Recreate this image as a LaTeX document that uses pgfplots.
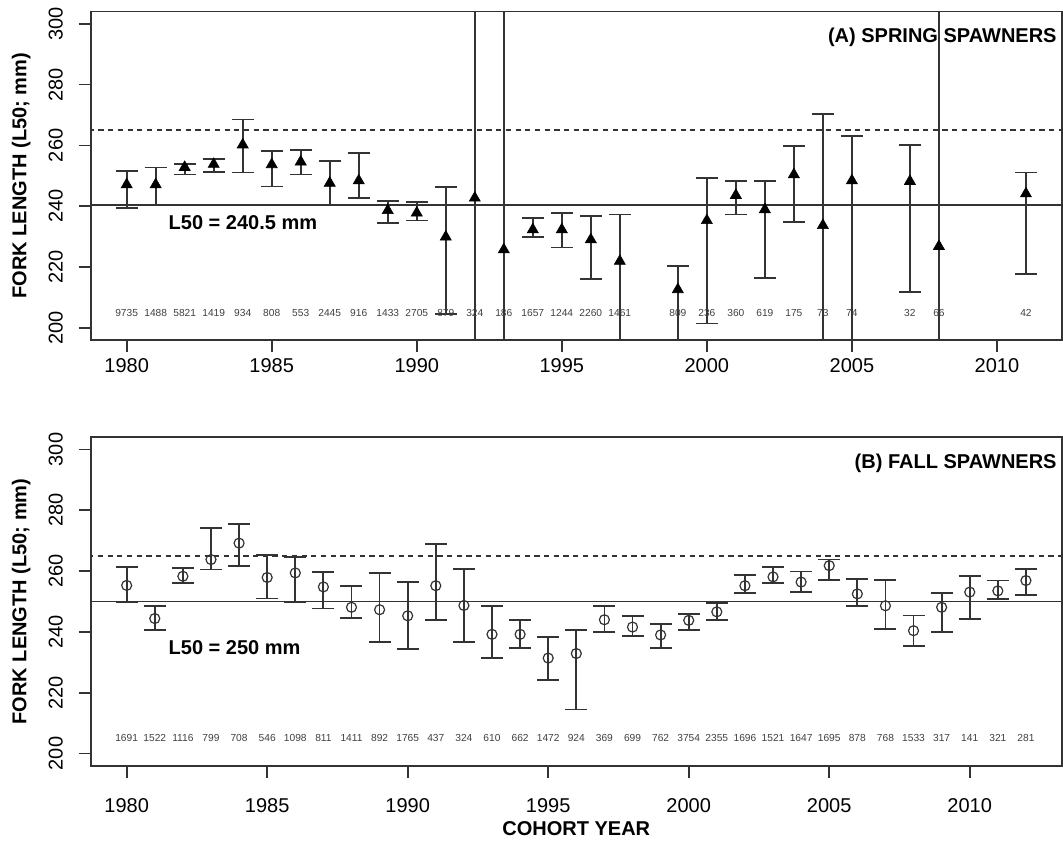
\documentclass[border=0pt]{standalone}
\usepackage{fontspec}
\setmainfont{Liberation Sans}
\usepackage{pgfplots}
\pgfplotsset{compat=1.18}
\usepackage{pgfplotstable}

\pgfplotstableread{
year y hi lo n
1980 247.1 251.5 239.3 9735
1981 247.1 252.7 240.5 1488
1982 252.8 254.0 250.4 5821
1983 253.8 255.6 251.3 1419
1984 260.2 268.5 251.1 934
1985 253.7 258.2 246.5 808
1986 254.6 258.4 250.4 553
1987 247.6 254.9 240.5 2445
1988 248.4 257.4 242.6 916
1989 238.6 241.7 234.4 1433
1990 237.8 241.4 235.3 2705
1991 229.9 246.2 204.6 879
1992 242.7 330 170 324
1993 225.7 330 170 186
1994 232.3 236.2 229.8 1657
1995 232.3 237.7 226.4 1244
1996 229.0 236.7 216.1 2260
1997 221.9 237.3 170 1461
1999 212.6 220.4 170 809
2000 235.3 249.3 201.4 236
2001 243.6 248.4 237.3 360
2002 238.9 248.2 216.3 619
2003 250.4 259.7 234.8 175
2004 233.7 270.3 170 73
2005 248.4 263.0 170 74
2007 248.2 260.0 211.7 32
2008 226.8 330 170 66
2011 244.1 251.1 217.8 42
}\springdata

\pgfplotstableread{
year y hi lo n
1980 255.3 261.4 249.7 1691
1981 244.4 248.4 240.5 1522
1982 258.3 260.9 256.0 1116
1983 263.8 274.3 260.5 799
1984 269.2 275.6 261.6 708
1985 257.9 265.2 251.0 546
1986 259.4 264.6 249.7 1098
1987 254.8 259.8 247.7 811
1988 248.1 255.2 244.5 1411
1989 247.3 259.4 236.7 892
1990 245.3 256.3 234.4 1765
1991 255.2 268.8 243.8 437
1992 248.7 260.7 236.6 324
1993 239.2 248.6 231.4 610
1994 239.2 243.8 234.6 662
1995 231.4 238.2 224.2 1472
1996 232.9 240.5 214.5 924
1997 244.0 248.4 240.0 369
1998 241.6 245.3 238.7 699
1999 239.0 242.6 234.6 762
2000 243.8 245.8 240.7 3754
2001 246.6 249.5 244.0 2355
2002 255.2 258.7 252.8 1696
2003 258.1 261.4 256.1 1521
2004 256.4 259.9 253.0 1647
2005 261.8 263.8 257.2 1695
2006 252.5 257.5 248.5 878
2007 248.6 257.2 241.0 768
2008 240.4 245.4 235.3 1533
2009 248.1 252.8 240.0 317
2010 253.1 258.3 244.3 141
2011 253.5 256.9 250.9 321
2012 256.9 260.7 252.2 281
}\falldata

\definecolor{ink}{gray}{0.2}

\pgfplotsset{
  panel/.style={
    scale only axis, width=485.6pt, height=164.2pt,
    ymin=196, ymax=304, ytick={200,220,240,260,280,300},
    axis line style={ink, line width=0.85pt},
    tick style={ink, line width=0.85pt},
    tick align=outside, major tick length=6pt,
    xtick pos=bottom, ytick pos=left,
    /pgf/number format/assume math mode=true,
    yticklabel style={rotate=90, anchor=base, yshift=8.0pt},
    xticklabel style={anchor=base, yshift=-10.2pt},
    xtick={1980,1985,1990,1995,2000,2005,2010},
    xticklabels={1980,1985,1990,1995,2000,2005,2010},
    every axis y label/.style={at={(axis description cs:-0.0715,0.5)}, rotate=90, anchor=center, font=\bfseries},
    ylabel={FORK LENGTH (L50; mm)},
    clip=true,
  },
  counts/.style={draw=none, mark=none, nodes near coords, point meta=explicit symbolic,
    nodes near coords style={font=\fontsize{5.1}{6}\selectfont, anchor=center, text=black!75, inner sep=0pt}},
  bars/.style={ink, line width=0.9pt,
    error bars/y dir=both, error bars/y explicit,
    error bars/error mark options={rotate=90, mark size=5.5pt, line width=0.9pt, ink},
    error bars/error bar style={line width=0.9pt, ink}},
}

\begin{document}
\begin{tikzpicture}
% ---------- (A) spring spawners ----------
\begin{axis}[panel, at={(0,212.85pt)}, anchor=south west,
  xmin=1978.76, xmax=2012.24]
  \addplot[ink, line width=0.85pt, dash pattern=on 2.6pt off 2.25pt] coordinates {(1970,265) (2020,265)};
  \addplot[ink, line width=0.85pt] coordinates {(1970,240.5) (2020,240.5)};
  \addplot[counts] table[x=year, y expr=205, meta=n] {\springdata};
  \addplot[bars, only marks, mark=triangle*, mark size=3.2pt, mark options={fill=black, draw=black, line width=0.3pt}]
    table[x=year, y=y, y error plus expr=\thisrow{hi}-\thisrow{y}, y error minus expr=\thisrow{y}-\thisrow{lo}] {\springdata};
  \node[anchor=east, inner sep=0pt, font=\bfseries] at (rel axis cs:0.9949,0.9208) {(A) SPRING SPAWNERS};
  \node[anchor=west, inner sep=0pt, font=\bfseries] at (rel axis cs:0.0799,0.3584) {L50 = 240.5 mm};
\end{axis}
% ---------- (B) fall spawners ----------
\begin{axis}[panel, at={(0,0)}, anchor=south west,
  xmin=1978.72, xmax=2013.28,
  xticklabel style={yshift=-7pt},
  xlabel={COHORT YEAR},
  every axis x label/.style={at={(axis description cs:0.5,-0.19275)}, anchor=center, font=\bfseries}]
  \addplot[ink, line width=0.85pt, dash pattern=on 2.6pt off 2.25pt] coordinates {(1970,265) (2020,265)};
  \addplot[ink, line width=0.85pt] coordinates {(1970,250) (2020,250)};
  \addplot[counts] table[x=year, y expr=205, meta=n] {\falldata};
  \addplot[bars, only marks, mark=o, mark size=2.5pt, mark options={draw=ink, line width=0.6pt}]
    table[x=year, y=y, y error plus expr=\thisrow{hi}-\thisrow{y}, y error minus expr=\thisrow{y}-\thisrow{lo}] {\falldata};
  \node[anchor=east, inner sep=0pt, font=\bfseries] at (rel axis cs:0.9949,0.9208) {(B) FALL SPAWNERS};
  \node[anchor=west, inner sep=0pt, font=\bfseries] at (rel axis cs:0.0799,0.3584) {L50 = 250 mm};
\end{axis}
\path (-45.35pt,-36.65pt) rectangle (486.15pt,382.85pt);
\end{tikzpicture}
\end{document}
